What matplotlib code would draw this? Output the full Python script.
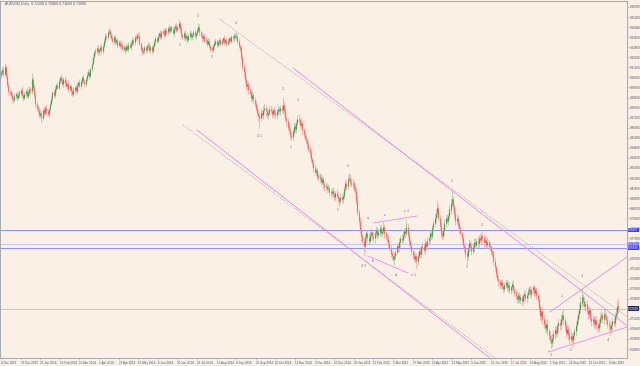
import matplotlib
matplotlib.use("Agg")
import matplotlib.pyplot as plt
import matplotlib.transforms as mtransforms
import numpy as np

SYMBOL = "AUDUSD,Daily"

# daily closes, pips (0.0001)
CLOSE_PIPS = [
    9080, 9100, 9070, 9120, 9050, 8980, 8930, 8920, 8900, 8870, 8860, 8890, 8910, 8880, 8900, 8920, 8940, 8900, 8880, 8910,
    8930, 8890, 8920, 8950, 8930, 9030, 8960, 8900, 8830, 8800, 8780, 8740, 8760, 8720, 8780, 8760, 8800, 8770, 8750, 8790,
    8830, 8870, 8920, 8900, 8950, 8980, 8960, 9010, 9040, 9020, 8990, 9030, 9000, 8970, 8990, 8950, 8970, 8930, 8910, 8940,
    8960, 8930, 8980, 9000, 8970, 9010, 9040, 9010, 8990, 9030, 9060, 9080, 9050, 9110, 9150, 9200, 9240, 9250, 9270, 9240,
    9260, 9280, 9250, 9290, 9330, 9370, 9360, 9400, 9410, 9380, 9350, 9330, 9360, 9320, 9340, 9300, 9320, 9290, 9300, 9270,
    9280, 9260, 9290, 9270, 9300, 9280, 9310, 9340, 9320, 9360, 9350, 9380, 9370, 9310, 9270, 9240, 9250, 9280, 9260, 9290,
    9300, 9260, 9280, 9250, 9290, 9320, 9350, 9330, 9370, 9390, 9360, 9400, 9410, 9380, 9420, 9400, 9430, 9410, 9440, 9420,
    9390, 9430, 9450, 9420, 9440, 9470, 9430, 9380, 9360, 9390, 9350, 9370, 9340, 9370, 9390, 9360, 9380, 9400, 9370, 9390,
    9420, 9440, 9400, 9380, 9350, 9370, 9330, 9340, 9310, 9330, 9290, 9270, 9260, 9290, 9310, 9330, 9300, 9320, 9340, 9310,
    9330, 9350, 9320, 9340, 9310, 9330, 9350, 9330, 9360, 9350, 9380, 9360, 9370, 9330, 9290, 9270, 9200, 9130, 9080, 9020,
    8970, 8990, 8940, 8920, 8880, 8900, 8860, 8830, 8790, 8760, 8730, 8720, 8760, 8740, 8780, 8800, 8770, 8740, 8760, 8790,
    8770, 8750, 8780, 8760, 8740, 8770, 8790, 8770, 8800, 8780, 8820, 8770, 8720, 8690, 8650, 8620, 8580, 8570, 8610, 8650,
    8630, 8680, 8710, 8700, 8660, 8680, 8620, 8590, 8560, 8540, 8510, 8470, 8440, 8390, 8360, 8320, 8290, 8300, 8260, 8240,
    8250, 8210, 8230, 8190, 8170, 8180, 8150, 8160, 8130, 8120, 8140, 8110, 8090, 8120, 8100, 8080, 8060, 8090, 8070, 8100,
    8150, 8200, 8180, 8230, 8240, 8210, 8190, 8200, 8160, 8140, 8060, 7970, 7900, 7830, 7780, 7740, 7700, 7760, 7800, 7770,
    7740, 7790, 7810, 7780, 7760, 7800, 7830, 7790, 7810, 7840, 7800, 7820, 7850, 7800, 7780, 7760, 7720, 7680, 7640, 7620,
    7600, 7620, 7650, 7700, 7680, 7730, 7760, 7750, 7790, 7820, 7800, 7850, 7790, 7740, 7700, 7660, 7630, 7600, 7620, 7580,
    7620, 7660, 7640, 7690, 7700, 7670, 7720, 7700, 7740, 7760, 7800, 7780, 7840, 7880, 7920, 7960, 8000, 7920, 7860, 7800,
    7780, 7820, 7880, 7920, 7900, 7940, 7990, 8040, 8070, 8020, 7960, 7900, 7920, 7870, 7840, 7800, 7760, 7710, 7680, 7640,
    7620, 7680, 7720, 7700, 7660, 7690, 7730, 7710, 7740, 7720, 7760, 7750, 7780, 7760, 7730, 7750, 7710, 7730, 7700, 7690,
    7660, 7640, 7580, 7530, 7480, 7440, 7420, 7390, 7410, 7380, 7360, 7390, 7410, 7370, 7390, 7350, 7370, 7400, 7360, 7330,
    7300, 7280, 7310, 7270, 7290, 7260, 7300, 7320, 7290, 7310, 7340, 7360, 7320, 7350, 7370, 7330, 7350, 7310, 7280, 7210,
    7140, 7180, 7120, 7080, 7050, 7080, 7020, 6990, 6960, 6930, 6970, 7000, 7030, 7010, 7060, 7090, 7070, 7120, 7150, 7110,
    7060, 7010, 7040, 6990, 6960, 6980, 6950, 6990, 7020, 7070, 7110, 7160, 7200, 7250, 7290, 7260, 7220, 7240, 7190, 7160,
    7190, 7130, 7100, 7120, 7080, 7110, 7070, 7050, 7090, 7130, 7150, 7120, 7160, 7140, 7110, 7080, 7060, 7040, 7070, 7100,
    7090, 7140, 7170, 7220, 7200,
]
FIRST_OPEN_PIPS = 9060

# shadow above / below the body, pips
WICK_UP = [
    20, 25, 30, 35, 15, 25, 30, 20, 15, 25, 20, 30, 15, 20, 25, 20, 15, 30, 20, 25,
    15, 30, 20, 25, 15, 45, 20, 25, 30, 15, 20, 35, 25, 15, 20, 30, 15, 25, 20, 15,
    25, 20, 15, 30, 20, 15, 25, 20, 15, 30, 25, 15, 20, 25, 15, 30, 20, 15, 25, 20,
    15, 25, 20, 15, 30, 20, 15, 25, 20, 15, 20, 25, 30, 15, 20, 25, 15, 20, 25, 30,
    15, 20, 25, 15, 20, 25, 15, 20, 23, 15, 20, 25, 15, 20, 15, 25, 20, 15, 20, 25,
    15, 20, 25, 15, 20, 15, 25, 20, 15, 20, 25, 15, 20, 30, 15, 20, 25, 15, 20, 15,
    20, 25, 15, 20, 15, 25, 20, 15, 20, 15, 25, 20, 15, 25, 20, 15, 20, 25, 15, 20,
    25, 15, 20, 25, 15, 35, 20, 25, 15, 20, 25, 15, 20, 15, 25, 20, 15, 20, 25, 15,
    20, 33, 25, 15, 20, 15, 25, 20, 15, 20, 25, 15, 20, 15, 25, 20, 15, 20, 15, 25,
    20, 15, 25, 15, 20, 25, 15, 20, 15, 20, 15, 25, 30, 20, 25, 15, 30, 25, 20, 30,
    25, 30, 20, 35, 25, 30, 20, 25, 30, 20, 25, 30, 35, 20, 30, 25, 20, 30, 25, 20,
    30, 25, 20, 35, 25, 20, 30, 25, 20, 30, 64, 30, 25, 20, 30, 25, 20, 30, 25, 35,
    30, 25, 35, 40, 25, 30, 25, 20, 30, 25, 20, 30, 25, 35, 20, 30, 25, 30, 20, 25,
    30, 25, 35, 20, 30, 25, 20, 30, 25, 20, 30, 25, 35, 20, 30, 25, 20, 30, 25, 30,
    25, 30, 20, 35, 40, 30, 25, 30, 20, 25, 30, 35, 25, 30, 20, 25, 30, 35, 30, 25,
    30, 25, 35, 20, 30, 25, 30, 20, 35, 25, 30, 20, 37, 25, 30, 20, 25, 30, 25, 20,
    25, 30, 35, 25, 20, 30, 25, 35, 30, 25, 20, 63, 30, 25, 20, 30, 25, 30, 35, 25,
    30, 25, 35, 20, 30, 25, 35, 20, 30, 25, 35, 30, 25, 30, 35, 30, 65, 30, 25, 30,
    25, 30, 35, 25, 30, 25, 35, 40, 75, 30, 25, 30, 35, 25, 30, 25, 30, 20, 25, 30,
    25, 30, 35, 25, 30, 25, 30, 35, 25, 30, 25, 35, 30, 31, 25, 30, 25, 35, 20, 30,
    25, 30, 25, 30, 20, 25, 30, 20, 25, 30, 20, 25, 30, 20, 25, 30, 20, 25, 30, 20,
    25, 30, 20, 25, 30, 20, 25, 30, 20, 25, 30, 20, 25, 30, 20, 25, 30, 20, 25, 35,
    30, 35, 25, 30, 40, 30, 35, 25, 30, 35, 40, 30, 35, 30, 25, 35, 30, 40, 35, 57,
    30, 35, 40, 30, 25, 35, 30, 25, 30, 35, 30, 25, 35, 40, 76, 30, 35, 25, 30, 35,
    30, 25, 35, 30, 25, 35, 30, 25, 30, 35, 30, 25, 35, 30, 25, 30, 35, 25, 30, 35,
    30, 35, 40, 45, 66,
]
WICK_DN = [
    25, 20, 30, 15, 25, 20, 30, 25, 20, 25, 30, 15, 20, 25, 15, 20, 25, 15, 30, 20,
    25, 15, 20, 30, 25, 20, 25, 20, 30, 25, 20, 25, 15, 42, 20, 25, 15, 30, 20, 25,
    15, 20, 25, 15, 20, 25, 15, 20, 25, 15, 20, 25, 30, 15, 20, 25, 15, 30, 20, 25,
    20, 15, 25, 20, 15, 20, 25, 15, 30, 20, 15, 20, 25, 15, 20, 15, 25, 20, 15, 25,
    20, 15, 25, 20, 15, 20, 25, 15, 20, 25, 15, 20, 25, 15, 20, 25, 15, 20, 25, 15,
    20, 25, 15, 20, 25, 15, 20, 15, 25, 20, 15, 20, 25, 15, 20, 25, 15, 20, 25, 15,
    20, 15, 25, 20, 15, 20, 25, 15, 20, 25, 15, 20, 15, 25, 20, 15, 20, 25, 15, 20,
    15, 25, 20, 15, 20, 15, 25, 20, 15, 25, 20, 15, 25, 20, 15, 20, 25, 15, 20, 25,
    15, 20, 25, 15, 20, 25, 15, 20, 25, 15, 20, 25, 15, 20, 25, 15, 20, 15, 25, 20,
    15, 20, 25, 15, 20, 15, 25, 20, 15, 20, 25, 15, 20, 25, 20, 30, 25, 30, 35, 25,
    30, 25, 30, 20, 35, 25, 30, 25, 20, 30, 35, 80, 30, 25, 30, 20, 35, 25, 30, 25,
    20, 30, 25, 35, 20, 30, 25, 20, 30, 25, 20, 30, 25, 35, 30, 25, 35, 28, 30, 25,
    25, 30, 20, 25, 30, 25, 35, 30, 25, 30, 35, 25, 30, 25, 35, 30, 25, 30, 35, 25,
    30, 25, 20, 35, 30, 25, 30, 25, 35, 30, 25, 30, 35, 25, 30, 35, 40, 25, 30, 25,
    30, 25, 35, 30, 25, 30, 25, 35, 30, 25, 30, 25, 35, 30, 40, 35, 80, 30, 25, 35,
    30, 25, 35, 30, 25, 35, 30, 25, 30, 35, 25, 30, 25, 35, 30, 25, 35, 30, 25, 35,
    30, 52, 35, 25, 30, 25, 35, 30, 25, 30, 35, 25, 30, 35, 25, 30, 35, 25, 30, 55,
    35, 25, 30, 35, 25, 30, 35, 25, 30, 25, 35, 30, 25, 30, 25, 35, 30, 25, 35, 30,
    35, 25, 30, 35, 25, 30, 25, 35, 30, 25, 35, 30, 25, 30, 35, 25, 30, 35, 30, 35,
    70, 30, 25, 35, 30, 25, 35, 30, 25, 30, 35, 25, 30, 25, 35, 30, 25, 30, 35, 25,
    30, 25, 35, 30, 25, 30, 35, 25, 30, 25, 35, 30, 25, 30, 35, 25, 30, 25, 35, 30,
    25, 30, 35, 25, 30, 35, 25, 30, 25, 35, 30, 25, 30, 35, 25, 30, 25, 35, 30, 35,
    30, 35, 40, 30, 35, 40, 30, 35, 30, 42, 35, 30, 40, 35, 30, 35, 40, 30, 35, 30,
    35, 40, 30, 35, 40, 30, 54, 35, 30, 35, 40, 30, 35, 30, 35, 40, 30, 35, 30, 40,
    35, 30, 40, 35, 30, 35, 40, 34, 30, 35, 30, 35, 40, 30, 35, 30, 35, 48, 30, 35,
    30, 35, 30, 40, 35,
]

DATE_STEP = 16  # bars between time-scale labels
DATE_LABELS = [
    "4 Dec 2013", "31 Dec 2013", "23 Jan 2014", "14 Feb 2014", "10 Mar 2014", "1 Apr 2014",
    "23 Apr 2014", "15 May 2014", "6 Jun 2014", "30 Jun 2014", "22 Jul 2014", "13 Aug 2014",
    "4 Sep 2014", "26 Sep 2014", "20 Oct 2014", "11 Nov 2014", "3 Dec 2014", "26 Dec 2014",
    "20 Jan 2015", "11 Feb 2015", "5 Mar 2015", "27 Mar 2015", "20 Apr 2015", "12 May 2015",
    "3 Jun 2015", "25 Jun 2015", "17 Jul 2015", "10 Aug 2015", "1 Sep 2015", "23 Sep 2015",
    "15 Oct 2015", "6 Nov 2015",
]

# horizontal levels: price, colour
H_LEVELS = [(0.78267, "#8c8cff"), (0.77153, "#c6c6f4"), (0.76835, "#8c8cff")]

# trend lines: (bar0, price0), (bar1, price1), colour, style
TRENDLINES = [
    ((178.8, 0.95022), (511.0, 0.71372), "#9a9a9a", ":"),
    ((148.6, 0.86616), (403.3, 0.68087), "#9a9a9a", ":"),
    ((238.4, 0.91149), (511.0, 0.70648), "#e88ce8", "-"),
    ((160.0, 0.86219), (399.2, 0.68087), "#e88ce8", "-"),
    ((303.7, 0.78823), (339.6, 0.79380), "#e88ce8", "-"),
    ((299.6, 0.76199), (332.2, 0.74847), "#e88ce8", "-"),
    ((448.2, 0.71746), (511.0, 0.76120), "#e88ce8", "-"),
    ((446.5, 0.68565), (511.0, 0.70553), "#e88ce8", "-"),
]

GREY, RED, BLUE, MAG = "#7a7a7a", "#ee4444", "#5a5aee", "#d860d8"
WAVE_LABELS = [
    ("3", 160.8, 0.95284, GREY), ("1", 146.1, 0.92978, GREY), ("5", 172.2, 0.92024, GREY),
    ("4", 191.8, 0.94728, GREY), ("2", 230.2, 0.89479, RED), ("3", 242.4, 0.88604, GREY),
    ("4 1", 211.4, 0.85742, GREY), ("1", 236.7, 0.84867, GREY), ("4", 283.3, 0.83356, GREY),
    ("5", 275.1, 0.79857, GREY), ("a", 299.6, 0.79221, BLUE), ("c", 313.5, 0.79459, BLUE),
    ("e 4", 331.4, 0.79777, MAG), ("b", 303.7, 0.75801, BLUE), ("d", 322.4, 0.74688, BLUE),
    ("4 3", 296.3, 0.75404, GREY), ("e 1", 337.1, 0.74688, RED), ("2", 368.2, 0.82163, MAG),
    ("2", 392.7, 0.78664, RED), ("1", 380.4, 0.75324, RED), ("1", 458.0, 0.73018, GREY),
    ("3", 474.3, 0.74609, GREY), ("4", 495.5, 0.69519, GREY), ("3", 449.0, 0.68326, RED),
    ("2", 465.3, 0.68724, GREY),
]

BG = "#fbf0e5"
AXIS_COLOR = "#a8a8b4"
TEXT_COLOR = "#50506a"
FS = 2.6          # chart text
FS_SCALE = 2.15   # price / time scale text
plt.rcParams["font.family"] = ["Liberation Sans", "DejaVu Sans"]


def build_ohlc():
    assert len(CLOSE_PIPS) == len(WICK_UP) == len(WICK_DN), (len(CLOSE_PIPS), len(WICK_UP), len(WICK_DN))
    close = np.array(CLOSE_PIPS, dtype=float) / 1e4
    open_ = np.r_[FIRST_OPEN_PIPS / 1e4, close[:-1]]
    high = np.maximum(open_, close) + np.array(WICK_UP) / 1e4
    low = np.minimum(open_, close) - np.array(WICK_DN) / 1e4
    return open_, high, low, close


def draw_candles(ax, o, h, l, c):
    idx = np.arange(len(c))
    bull = c >= o
    wick_col = np.where(bull, "#adc8a7", "#f3aba8")
    body_col = np.where(bull, "#3f8f3f", "#f05a5a")
    ax.vlines(idx, l, h, colors=wick_col, lw=0.55, zorder=3)
    top = np.maximum(o, c) + 0.00004
    bot = np.minimum(o, c) - 0.00004
    ax.vlines(idx, bot, top, colors=body_col, lw=0.8, alpha=0.8, zorder=4)


def axis_tag(ax, price, fc, tc="white"):
    tr = mtransforms.blended_transform_factory(ax.transAxes, ax.transData)
    ax.text(1.002, price, f"{price:.5f}", transform=tr, fontsize=FS_SCALE, color=tc,
            va="center", ha="left", clip_on=False, zorder=10,
            bbox=dict(boxstyle="square,pad=0.12", fc=fc, ec="none"))


if __name__ == "__main__":
    o, h, l, c = build_ohlc()

    fig = plt.figure(figsize=(6.4, 3.66), dpi=100, facecolor=BG)
    ax = fig.add_axes([0.0, 8 / 366, 627 / 640, 357 / 366], facecolor=BG)
    ax.set_xlim(-0.816, 511.0)
    ax.set_ylim(0.680875, 0.964771)

    # levels and lines under the candles
    for price, col in H_LEVELS:
        ax.axhline(price, color=col, lw=0.7, zorder=2)
    ax.axhline(c[-1], color="#c8c8c8", lw=0.7, zorder=2)
    for (x0, y0), (x1, y1), col, ls in TRENDLINES:
        ax.plot([x0, x1], [y0, y1], color=col, lw=0.6, ls=ls, zorder=2)

    draw_candles(ax, o, h, l, c)

    for txt, bx, py, col in WAVE_LABELS:
        ax.text(bx, py, txt, color=col, fontsize=FS, ha="center", va="center", zorder=6)

    # price scale on the right
    ticks = np.round(np.arange(0.9600, 0.6870, -0.0080), 4)
    ax.yaxis.tick_right()
    ax.set_yticks(ticks)
    ax.set_yticklabels([f"{t:.5f}" for t in ticks])
    ax.tick_params(axis="y", labelsize=FS_SCALE, length=1.2, width=0.4, pad=0.6,
                   colors=AXIS_COLOR, labelcolor=TEXT_COLOR)
    for price, col in H_LEVELS:
        axis_tag(ax, price, "#3c3cf0" if col == "#8c8cff" else "#7070e8")
    axis_tag(ax, c[-1], "#2a2a55")

    # time scale
    xt = np.arange(len(DATE_LABELS)) * DATE_STEP
    ax.set_xticks(xt)
    ax.set_xticklabels(DATE_LABELS, ha="left")
    ax.tick_params(axis="x", labelsize=FS_SCALE, length=1.5, width=0.4, pad=0.8,
                   colors=AXIS_COLOR, labelcolor=TEXT_COLOR)

    for sp in ax.spines.values():
        sp.set_color(AXIS_COLOR)
        sp.set_linewidth(0.7)

    fig.text(5 / 640, 1 - 4 / 366, f"{SYMBOL}  {o[-1]:.5f} {h[-1]:.5f} {l[-1]:.5f} {c[-1]:.5f}",
             fontsize=FS, color=TEXT_COLOR, va="center", ha="left")

    fig.savefig("out.png", dpi=100, facecolor=BG)
